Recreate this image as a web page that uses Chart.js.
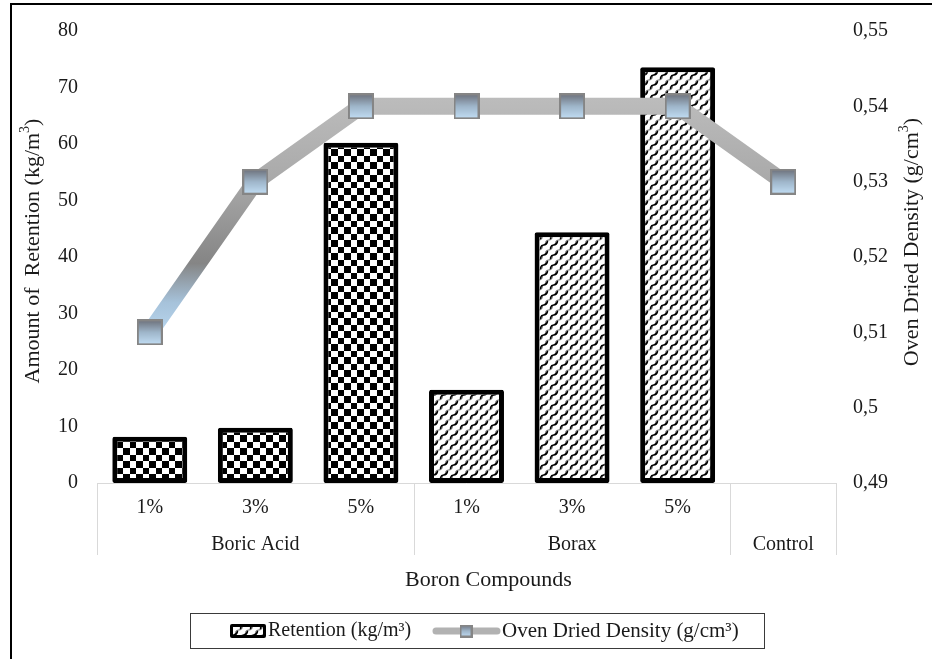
<!DOCTYPE html>
<html>
<head>
<meta charset="utf-8">
<title>Retention and Oven Dried Density</title>
<script src="https://cdn.jsdelivr.net/npm/chart.js@4.4.1/dist/chart.umd.min.js"></script>
<style>
  html, body { margin: 0; padding: 0; background: #ffffff; }
  #wrap { position: relative; width: 932px; height: 659px; }
  canvas { display: block; }
</style>
</head>
<body>
<div id="wrap"><canvas id="chart" width="932" height="659"></canvas></div>
<script>
// ---- data ----
const groups = ['Boric Acid', 'Boric Acid', 'Boric Acid', 'Borax', 'Borax', 'Borax', 'Control'];
const concentrations = ['1%', '3%', '5%', '1%', '3%', '5%', ''];
const retention = [8.2, 9.8, 60.2, 16.5, 44.4, 73.6, null];       // kg/m³
const density = [0.51, 0.53, 0.54, 0.54, 0.54, 0.54, 0.53];       // g/cm³
const retentionRange = [0, 80, 10];
const densityRange = [0.49, 0.55, 0.01];

const FONT = '"Liberation Serif", "Times New Roman", serif';
const TEXT = '#1a1a1a';

// ---- fill patterns ----
function checkerPattern() {
  const c = document.createElement('canvas');
  c.width = 13; c.height = 13;
  const g = c.getContext('2d');
  g.fillStyle = '#ffffff'; g.fillRect(0, 0, 13, 13);
  g.fillStyle = '#000000';
  g.fillRect(0, 0, 6, 6);
  g.fillRect(6, 6, 7, 7);
  return g.createPattern(c, 'repeat');
}
// interlocking S-shaped hooks for the borax bars
function wavePattern() {
  const c = document.createElement('canvas');
  const w = 10, h = 10;
  c.width = w; c.height = h;
  const g = c.getContext('2d');
  g.fillStyle = '#ffffff'; g.fillRect(0, 0, w, h);
  g.lineCap = 'round';
  const hook = (ox, oy, color, lw) => {
    g.strokeStyle = color; g.lineWidth = lw;
    g.beginPath();
    g.moveTo(ox + 0.5, oy + 8.5);
    g.bezierCurveTo(ox + 1, oy + 2, ox + 6, oy + 8, ox + 7.5, oy + 1.5);
    g.stroke();
  };
  for (const dx of [-w, 0, w]) {
    for (const dy of [-h, 0, h]) {
      hook(dx + 5, dy + 5, '#7a7a7a', 1.2);
      hook(dx, dy, '#000000', 1.5);
    }
  }
  return g.createPattern(c, 'repeat');
}

// ---- square marker with vertical gradient ----
function markerCanvas(size) {
  const c = document.createElement('canvas');
  c.width = size; c.height = size;
  const g = c.getContext('2d');
  const grad = g.createLinearGradient(0, 0, 0, size);
  grad.addColorStop(0, '#6a6d77');
  grad.addColorStop(0.5, '#9fb6ca');
  grad.addColorStop(1, '#c4e0f7');
  g.fillStyle = grad;
  g.fillRect(1, 1, size - 2, size - 2);
  g.strokeStyle = '#858585';
  g.lineWidth = 2;
  g.strokeRect(1, 1, size - 2, size - 2);
  return c;
}

const checker = checkerPattern();
const wave = wavePattern();
const marker = markerCanvas(26);
const legendMarker = markerCanvas(13);

function lineGradient(context) {
  const chart = context.chart;
  if (!chart.chartArea) return '#b5b5b5';
  const s = chart.scales.y1;
  const top = s.getPixelForValue(Math.max(...density)) - 9;
  const bot = s.getPixelForValue(Math.min(...density)) + 9;
  const g = chart.ctx.createLinearGradient(0, top, 0, bot);
  g.addColorStop(0, '#bcbcbc');
  g.addColorStop(0.33, '#aaaaaa');
  g.addColorStop(0.68, '#858585');
  g.addColorStop(0.84, '#a6c2da');
  g.addColorStop(1, '#bddbf3');
  return g;
}

// text with an optional superscript part, centred on (x, y)
function richText(ctx, parts, x, y, rot, size) {
  const supSize = Math.round(size * 0.65);
  ctx.save();
  ctx.translate(x, y);
  ctx.rotate(rot || 0);
  ctx.textBaseline = 'middle';
  ctx.textAlign = 'left';
  let total = 0;
  for (const p of parts) {
    ctx.font = (p.sup ? supSize : size) + 'px ' + FONT;
    p.w = ctx.measureText(p.t).width;
    total += p.w;
  }
  let cx = -total / 2;
  for (const p of parts) {
    ctx.font = (p.sup ? supSize : size) + 'px ' + FONT;
    ctx.fillStyle = TEXT;
    ctx.fillText(p.t, cx, p.sup ? -size * 0.36 : 0);
    cx += p.w;
  }
  ctx.restore();
}

const decor = {
  id: 'decor',
  beforeDatasetsDraw(chart) {
    const { ctx, chartArea: a, scales } = chart;
    const x = scales.x;
    ctx.save();
    ctx.strokeStyle = '#d9d9d9';
    ctx.lineWidth = 1;
    // category axis line
    ctx.beginPath();
    ctx.moveTo(a.left, a.bottom + 0.5);
    ctx.lineTo(a.right, a.bottom + 0.5);
    // group separators
    const bounds = [a.left];
    for (let i = 1; i < groups.length; i++) {
      if (groups[i] !== groups[i - 1]) {
        bounds.push((x.getPixelForValue(i - 1) + x.getPixelForValue(i)) / 2);
      }
    }
    bounds.push(a.right);
    for (const b of bounds) {
      const bx = Math.round(b) + 0.5;
      ctx.moveTo(bx, a.bottom);
      ctx.lineTo(bx, a.bottom + 72);
    }
    ctx.stroke();
    ctx.restore();
  },
  afterDraw(chart) {
    const { ctx, chartArea: a, scales } = chart;
    const x = scales.x;
    ctx.save();
    ctx.fillStyle = TEXT;
    ctx.font = '20px ' + FONT;
    ctx.textAlign = 'center';
    ctx.textBaseline = 'middle';
    // concentration row
    concentrations.forEach((c, i) => {
      if (c) ctx.fillText(c, x.getPixelForValue(i), a.bottom + 25);
    });
    // group row
    let start = 0;
    for (let i = 1; i <= groups.length; i++) {
      if (i === groups.length || groups[i] !== groups[start]) {
        const cx = (x.getPixelForValue(start) + x.getPixelForValue(i - 1)) / 2;
        ctx.fillText(groups[start], cx, a.bottom + 62);
        start = i;
      }
    }
    // axis titles
    ctx.font = '22px ' + FONT;
    ctx.fillText('Boron Compounds', (a.left + a.right) / 2 + 22, a.bottom + 97);
    richText(ctx, [{ t: 'Amount of  Retention (kg/m' }, { t: '3', sup: true }, { t: ')' }], 33, 251, -Math.PI / 2, 22);
    richText(ctx, [{ t: 'Oven Dried Density (g/cm' }, { t: '3', sup: true }, { t: ')' }], 912, 242, -Math.PI / 2, 22);

    // legend
    ctx.strokeStyle = '#3a3a3a';
    ctx.lineWidth = 1;
    ctx.strokeRect(190.5, 613.5, 574, 35);
    // bar swatch
    ctx.fillStyle = '#000';
    ctx.beginPath();
    ctx.roundRect(230, 624, 36, 14, 2);
    ctx.fill();
    ctx.fillStyle = wave;
    ctx.fillRect(233, 627, 30, 8);
    ctx.fillStyle = TEXT;
    ctx.textAlign = 'left';
    ctx.font = '20px ' + FONT;
    ctx.fillText('Retention (kg/m³)', 268, 631);
    // line swatch
    ctx.strokeStyle = '#b2b2b2';
    ctx.lineWidth = 7;
    ctx.lineCap = 'round';
    ctx.beginPath();
    ctx.moveTo(436, 631);
    ctx.lineTo(497, 631);
    ctx.stroke();
    ctx.drawImage(legendMarker, 466 - 6.5, 631 - 6.5);
    ctx.font = '21px ' + FONT;
    ctx.fillText('Oven Dried Density (g/cm³)', 502, 631);

    // outer frame
    ctx.fillStyle = '#000';
    ctx.fillRect(11, 3, 932 - 11, 2);
    ctx.fillRect(10, 3, 2, 659);
    ctx.restore();
  }
};

const fmtDensity = v => Number(v.toFixed(2)).toString().replace('.', ',');

new Chart(document.getElementById('chart'), {
  type: 'bar',
  data: {
    labels: concentrations.map((c, i) => groups[i] + ' ' + c),
    datasets: [
      {
        type: 'line',
        label: 'Oven Dried Density (g/cm³)',
        data: density,
        yAxisID: 'y1',
        order: 0,
        borderColor: lineGradient,
        borderWidth: 17,
        borderJoinStyle: 'round',
        tension: 0,
        pointStyle: marker,
        pointRadius: 13,
        pointHoverRadius: 13
      },
      {
        type: 'bar',
        label: 'Retention (kg/m³)',
        data: retention,
        yAxisID: 'y',
        order: 1,
        backgroundColor: ctx => (groups[ctx.dataIndex] === 'Boric Acid' ? checker : wave),
        borderColor: '#000000',
        borderWidth: 5,
        borderSkipped: false,
        borderRadius: 2,
        barPercentage: 0.71,
        categoryPercentage: 1
      }
    ]
  },
  options: {
    responsive: false,
    devicePixelRatio: 1,
    animation: false,
    events: [],
    layout: { padding: { top: 30, left: 0, right: 0, bottom: 0 } },
    plugins: { legend: { display: false }, tooltip: { enabled: false } },
    scales: {
      x: {
        grid: { display: false, drawTicks: false },
        border: { display: false },
        ticks: { display: false },
        afterFit: s => { s.height = 176; }
      },
      y: {
        position: 'left',
        min: retentionRange[0], max: retentionRange[1],
        grid: { display: false, drawTicks: false },
        border: { display: false },
        ticks: { stepSize: retentionRange[2], padding: 19, color: TEXT, font: { family: FONT, size: 20 } },
        afterFit: s => { s.width = 97; }
      },
      y1: {
        position: 'right',
        min: densityRange[0], max: densityRange[1],
        grid: { display: false, drawTicks: false },
        border: { display: false },
        ticks: { stepSize: densityRange[2], padding: 17, color: TEXT, font: { family: FONT, size: 20 }, callback: fmtDensity },
        afterFit: s => { s.width = 96; }
      }
    }
  },
  plugins: [decor]
});
</script>
</body>
</html>
